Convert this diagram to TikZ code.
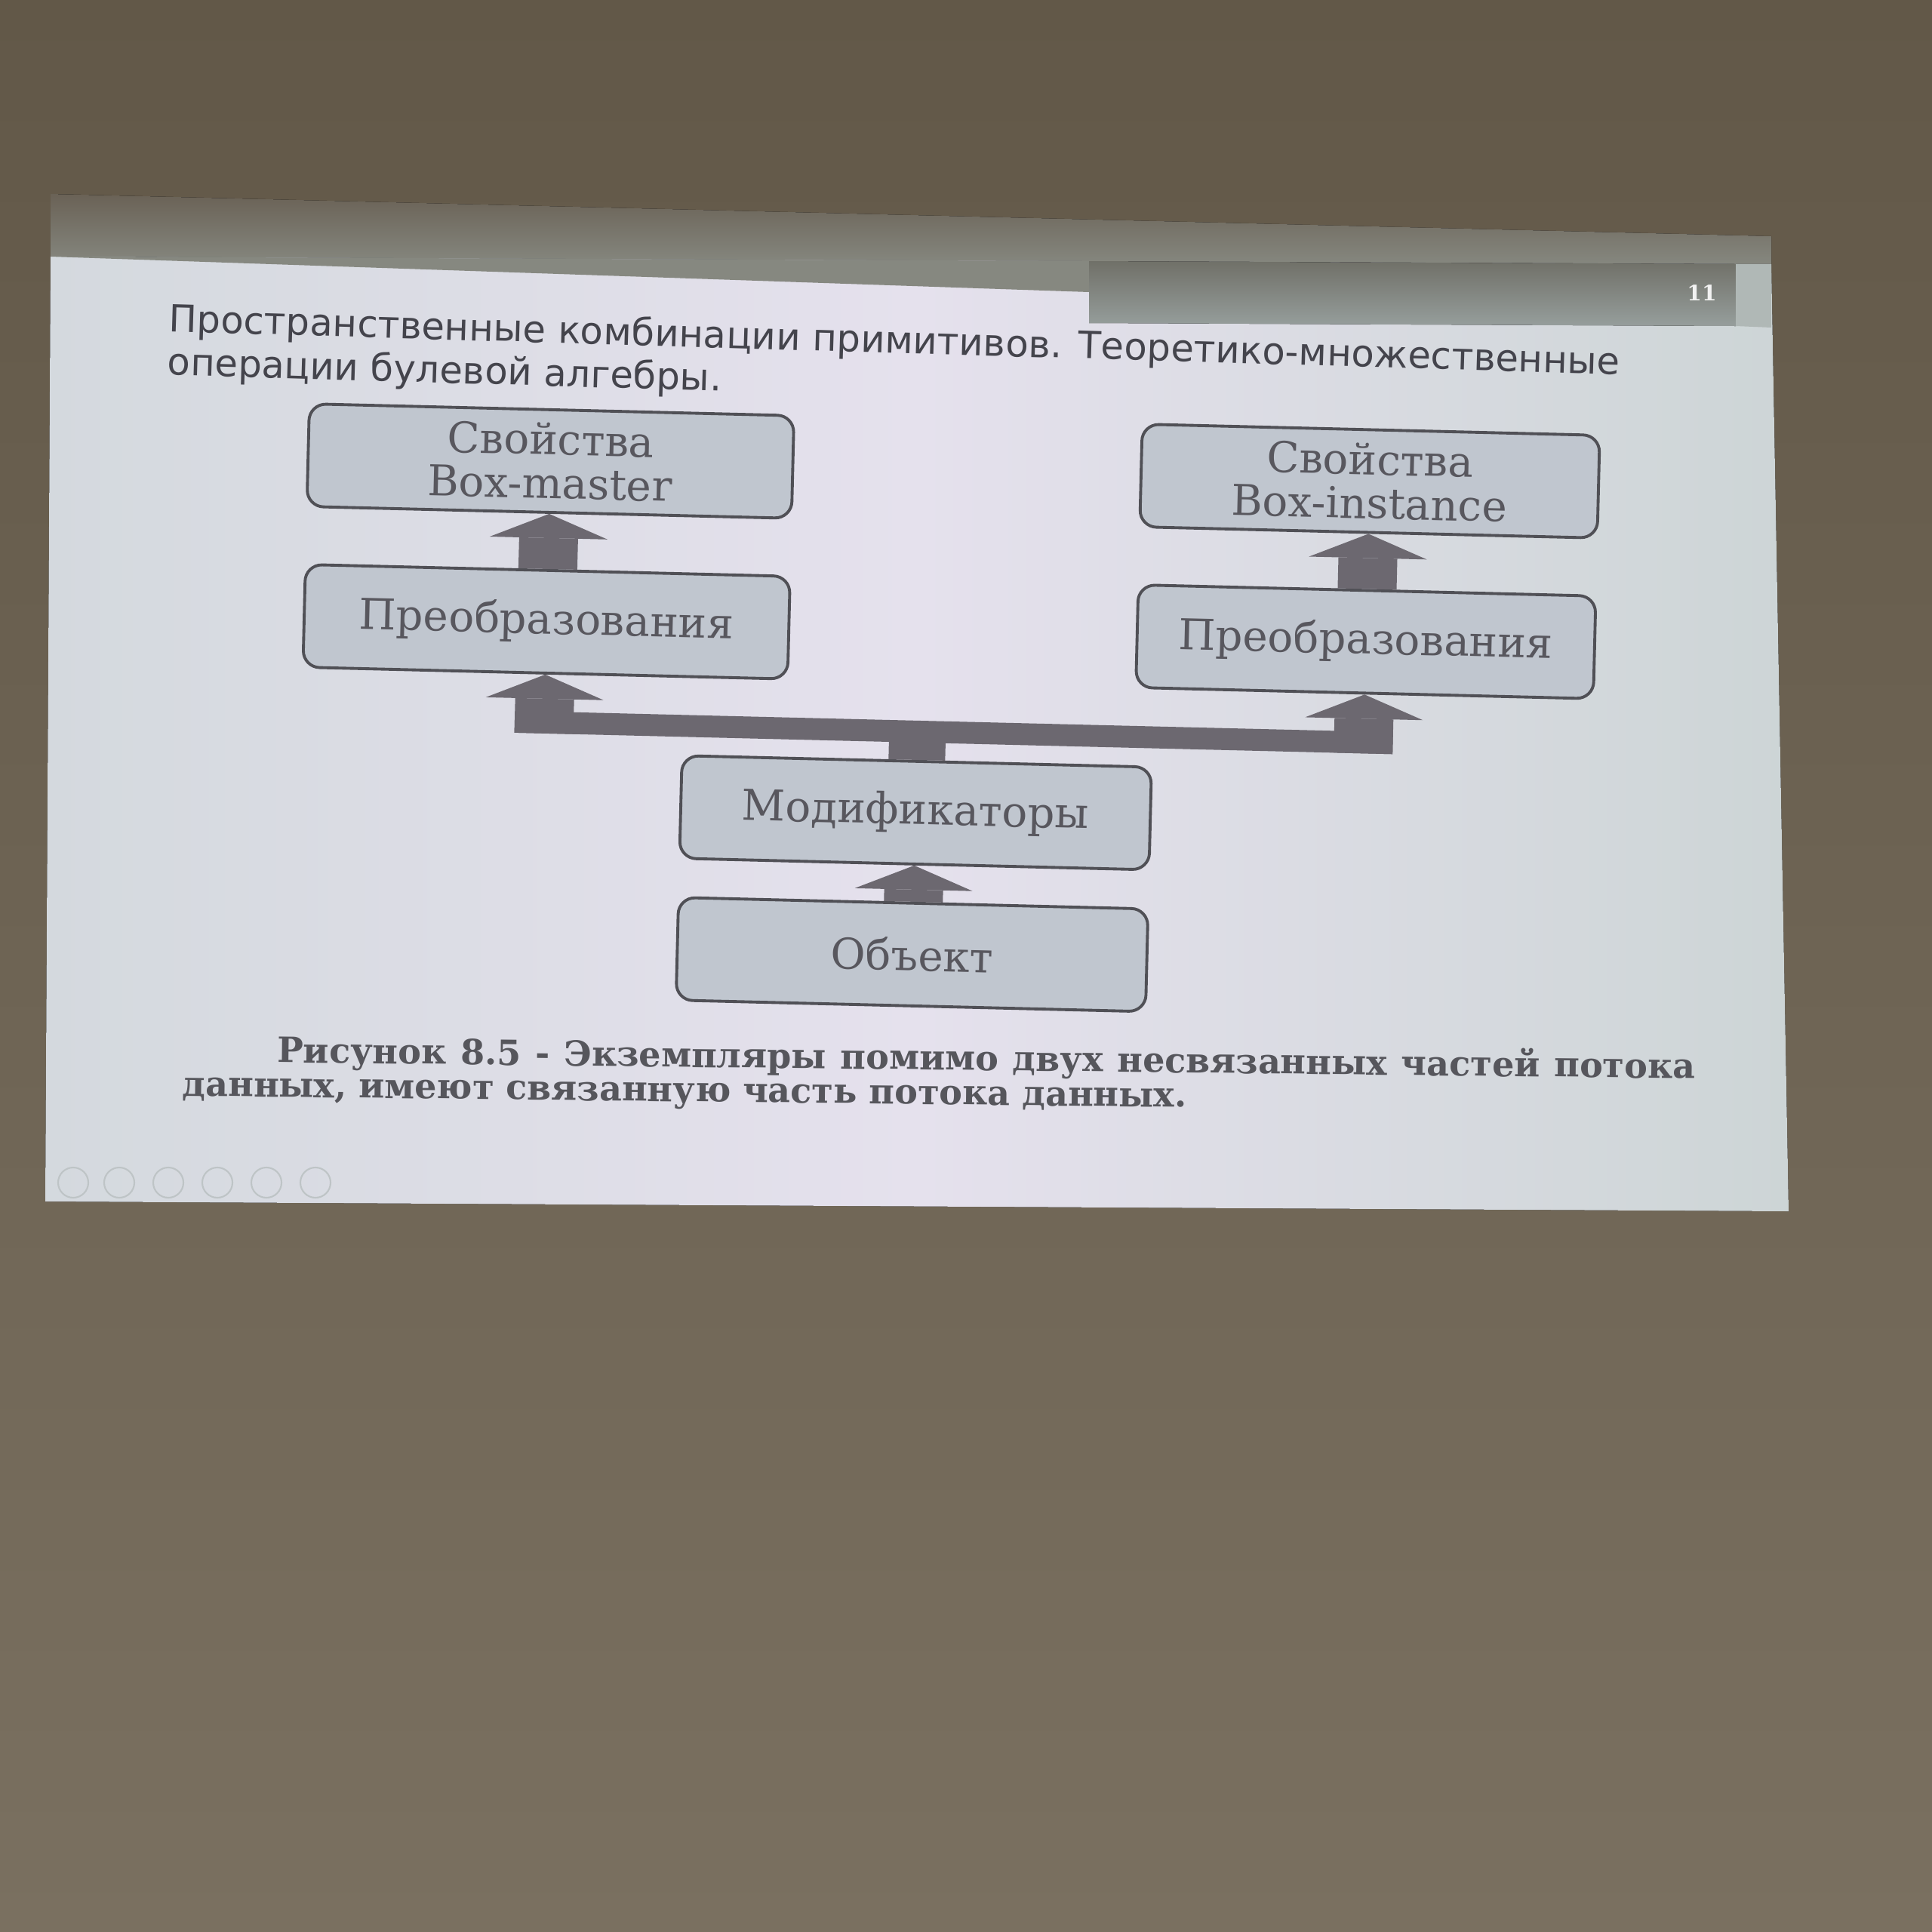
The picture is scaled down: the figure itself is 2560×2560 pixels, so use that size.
\documentclass[tikz,border=0pt]{standalone}
\usepackage{fontspec}
\setmainfont{DejaVu Serif}
\newfontfamily\headfont{DejaVu Sans}
\usetikzlibrary{arrows.meta}

\definecolor{bgtop}{RGB}{98,88,72}
\definecolor{bgbot}{RGB}{122,112,96}
\definecolor{bandtop}{RGB}{106,98,86}
\definecolor{bandbot}{RGB}{134,136,128}
\definecolor{slideedge}{RGB}{212,217,222}
\definecolor{slidemid}{RGB}{229,225,237}
\definecolor{slideright}{RGB}{205,213,214}
\definecolor{headtop}{RGB}{112,112,104}
\definecolor{headbot}{RGB}{150,158,156}
\definecolor{stripgray}{RGB}{176,184,182}
\definecolor{boxfill}{RGB}{192,198,207}
\definecolor{boxline}{RGB}{80,80,86}
\definecolor{boxtext}{RGB}{88,87,94}
\definecolor{arrowfill}{RGB}{108,104,112}
\definecolor{headtext}{RGB}{68,68,76}
\definecolor{captext}{RGB}{86,86,92}
\definecolor{navgray}{RGB}{190,196,198}

\tikzset{
  stage/.style={draw=boxline, line width=1.1pt, fill=boxfill, rounded corners=0.22cm,
    minimum height=1.36cm, inner sep=0pt, align=center, text=boxtext,
    font=\fontsize{16}{16.5}\selectfont, transform shape},
  leftstage/.style={stage, minimum width=6.42cm},
  rightstage/.style={stage, minimum width=6.06cm},
  midstage/.style={stage, minimum width=6.22cm},
  flow/.style={draw=arrowfill, line width=0.78cm,
    -{Triangle[width=1.56cm, length=0.32cm, line width=0pt]}},
  trunk/.style={draw=arrowfill},
  headline/.style={inner sep=0pt, align=left, text=headtext,
    font=\headfont\fontsize{14.1}{16.3}\selectfont},
  figcap/.style={inner sep=0pt, text width=20.03cm, align=justify, text=captext,
    font=\bfseries\fontsize{13.1}{13}\selectfont},
  navring/.style={draw=navgray, line width=0.6pt},
}

\begin{document}
\begin{tikzpicture}[x=0.01cm, y=-0.01cm]
  \useasboundingbox (0,0) rectangle (2560,2560);
  % photo background and projected slide
  \fill[top color=bgtop, bottom color=bgbot] (0,0) rectangle (2560,2560);
  \fill[top color=bandtop, bottom color=bandbot] (67,257) -- (2347,313) -- (2347,352) -- (67,340) -- cycle;
  \fill[left color=slideedge, right color=slideright, middle color=slidemid]
    (67,340) -- (2347,350) -- (2370,1605) -- (60,1592) -- cycle;
  \fill[bandbot] (67,340) -- (1443,346) -- (1443,387) -- cycle;
  \fill[top color=headtop, bottom color=headbot] (1443,346) -- (2300,350) -- (2300,432) -- (1443,428) -- cycle;
  \fill[stripgray] (2300,350) -- (2347,350) -- (2347,434) -- (2300,432) -- cycle;
  \node[text=white!90!gray, font=\bfseries\fontsize{8}{8}\selectfont] (pagenum) at (2255,388) {11};

  \node[headline, anchor=north west, rotate=-1.7] (heading) at (224,400)
    {Пространственные комбинации примитивов. Теоретико-множественные\\операции булевой алгебры.};

  % diagram
  \begin{scope}[shift={(1220,1000)}, rotate=-1.4]
    \node[leftstage] (master) at (-500,-377) {Свойства\\Box-master};
    \node[leftstage] (trafoA) at (-500,-164) {Преобразования};
    \node[rightstage] (inst) at (586,-377) {Свойства\\Box-instance};
    \node[rightstage] (trafoB) at (586,-164) {Преобразования};
    \node[midstage] (mods) at (-5,77) {Модификаторы};
    \node[midstage] (obj) at (-5,265) {Объект};

    \coordinate (fork) at (-5,-30.5);
    \coordinate (barL) at (-539,-30.5);
    \coordinate (barR) at (625,-30.5);
    \coordinate (riseA) at (-500,-16);
    \coordinate (riseB) at (586,-16);

    \draw[trunk, line width=0.75cm] (mods.north) -- (fork);
    \draw[trunk, line width=0.29cm] (barL) -- (barR);
    \draw[flow] (riseA) -- (trafoA.south);
    \draw[flow] (riseB) -- (trafoB.south);
    \draw[flow] (trafoA.north) -- (master.south);
    \draw[flow] (trafoB.north) -- (inst.south);
    \draw[flow] (obj.north) -- (mods.south);
  \end{scope}

  \node[figcap, anchor=north west, rotate=-0.65] (caption) at (242,1368)
    {\hspace*{1.25cm}Рисунок 8.5 - Экземпляры помимо двух несвязанных частей потока\linebreak
     данных, имеют связанную часть потока данных.};

  % slide show buttons
  \foreach \x in {97,158,223,288,353,418}
    \draw[navring] (\x,1567) circle [radius=0.2cm];
\end{tikzpicture}
\end{document}
